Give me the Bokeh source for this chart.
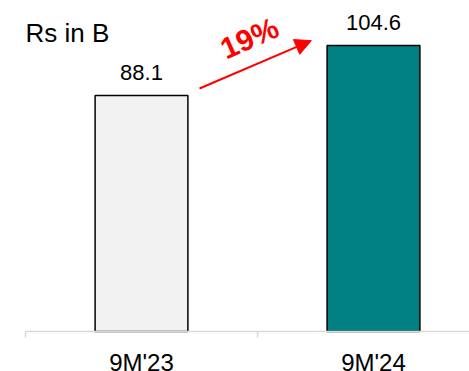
from bokeh.plotting import figure
from bokeh.models import ColumnDataSource, Range1d, Arrow, NormalHead, Label
from bokeh.core.properties import value
from bokeh.embed import file_html
from bokeh.resources import INLINE

# Revenue for the first nine months, Rs billion
periods = ["9M'23", "9M'24"]
revenue = [88.1, 104.6]
value_labels = ["88.1", "104.6"]
bar_colors = ["#f2f2f2", "#008080"]
growth_label = "19%"

centers = [i + 0.5 for i in range(len(periods))]
boundaries = [float(i) for i in range(len(periods) + 1)]
bar_width = 0.4
FONT = "Liberation Sans"

W, H = 469, 371
# value axis: the baseline sits 40px above the bottom of the canvas
BASE, Y_HI = 10.2, 119.45
px_per_unit = (H - 40) / (Y_HI - BASE)
Y_LO = BASE - 40 / px_per_unit
# category axis: one category spans 232px, the first starts 25px in
cat_px = 232
X_LO = -25 / cat_px
X_HI = X_LO + W / cat_px

src = ColumnDataSource(dict(x=centers, top=revenue, color=bar_colors, label=value_labels,
                            name=periods))

p = figure(width=W, height=H, output_backend="svg", toolbar_location=None,
           x_range=Range1d(X_LO, X_HI), y_range=Range1d(Y_LO, Y_HI),
           min_border=0)
p.outline_line_color = None
p.grid.visible = False
p.axis.visible = False

p.vbar(x="x", top="top", bottom=BASE, width=bar_width, source=src,
       fill_color="color", line_color="black", line_width=1.5)

p.text(x="x", y="top", text="label", source=src, text_align="center",
       text_baseline="alphabetic", y_offset=-23, text_font=value(FONT),
       text_font_size="22px", text_color="black")

# category baseline with small ticks at the category boundaries
tick_len = 6 / px_per_unit
p.segment(x0=[boundaries[0]], y0=[BASE], x1=[boundaries[-1]], y1=[BASE],
          line_color="#d9d9d9", line_width=1.5)
p.segment(x0=boundaries, y0=[BASE] * len(boundaries), x1=boundaries,
          y1=[BASE - tick_len] * len(boundaries), line_color="#d9d9d9", line_width=1.5)

p.text(x="x", y=BASE, text="name", source=src, text_align="center",
       text_baseline="middle", y_offset=31, text_font=value(FONT),
       text_font_size="24px", text_color="black")

# growth arrow between the bar tops
x0 = centers[0] + bar_width / 2 + 0.05
x1 = centers[1] - bar_width / 2 - 0.068
p.add_layout(Arrow(x_start=x0, y_start=revenue[0] + 2.3, x_end=x1, y_end=revenue[1] + 1.6,
                   line_color="red", line_width=2,
                   end=NormalHead(size=16, fill_color="red", line_color="red")))

p.add_layout(Label(x=0.965, y=107.1, text=growth_label, angle=24, angle_units="deg",
                   text_align="center", text_baseline="middle", text_font=FONT,
                   text_font_style="bold", text_font_size="30px", text_color="red"))

p.add_layout(Label(x=0.0, y=108.8, text="Rs in B", text_align="left",
                   text_baseline="middle", text_font=FONT, text_font_size="26px",
                   text_color="black"))

open("out.html", "w").write(file_html(p, INLINE))
